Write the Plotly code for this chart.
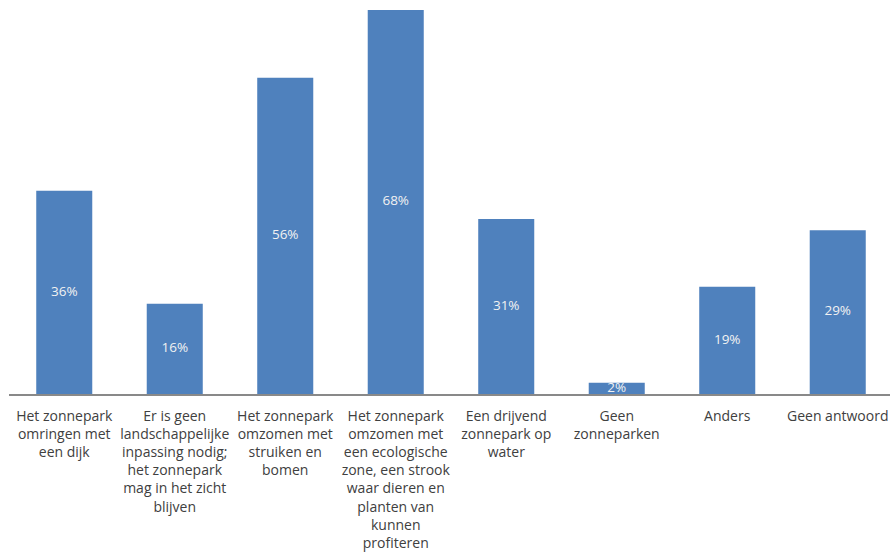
import plotly.graph_objects as go

categories = [
    "Het zonnepark<br>omringen met<br>een dijk",
    "Er is geen<br>landschappelijke<br>inpassing nodig;<br>het zonnepark<br>mag in het zicht<br>blijven",
    "Het zonnepark<br>omzomen met<br>struiken en<br>bomen",
    "Het zonnepark<br>omzomen met<br>een ecologische<br>zone, een strook<br>waar dieren en<br>planten van<br>kunnen<br>profiteren",
    "Een drijvend<br>zonnepark op<br>water",
    "Geen<br>zonneparken",
    "Anders",
    "Geen antwoord",
]
values = [36, 16, 56, 68, 31, 2, 19, 29]

xs = list(range(len(categories)))
bar_color = "#4F81BD"
font_family = "Open Sans"

fig = go.Figure()
fig.add_trace(go.Bar(
    x=xs,
    y=values,
    width=0.507,
    marker=dict(color=bar_color, line=dict(width=0)),
    hoverinfo="skip",
    showlegend=False,
))
# value labels centred in each bar
fig.add_trace(go.Scatter(
    x=xs,
    y=[v / 2 for v in values],
    mode="text",
    text=[f"{v}%" for v in values],
    textfont=dict(family=font_family, size=13.5, color="#F2F2F2"),
    hoverinfo="skip",
    showlegend=False,
    cliponaxis=False,
))

fig.update_layout(
    width=890,
    height=553,
    margin=dict(l=9, r=0, t=10, b=159),
    paper_bgcolor="white",
    plot_bgcolor="white",
    font=dict(family=font_family, size=14, color="#404040"),
    xaxis=dict(
        range=[-0.5, 7.473],
        tickmode="array",
        tickvals=xs,
        ticktext=categories,
        showgrid=False,
        zeroline=False,
        showline=True,
        linecolor="#898989",
        linewidth=1.5,
        ticks="",
        ticklabelstandoff=8,
        tickfont=dict(family=font_family, size=14, color="#404040"),
        fixedrange=True,
    ),
    yaxis=dict(
        range=[0, 68],
        visible=False,
        showgrid=False,
        zeroline=False,
        fixedrange=True,
    ),
)

fig.write_html("out.html")
